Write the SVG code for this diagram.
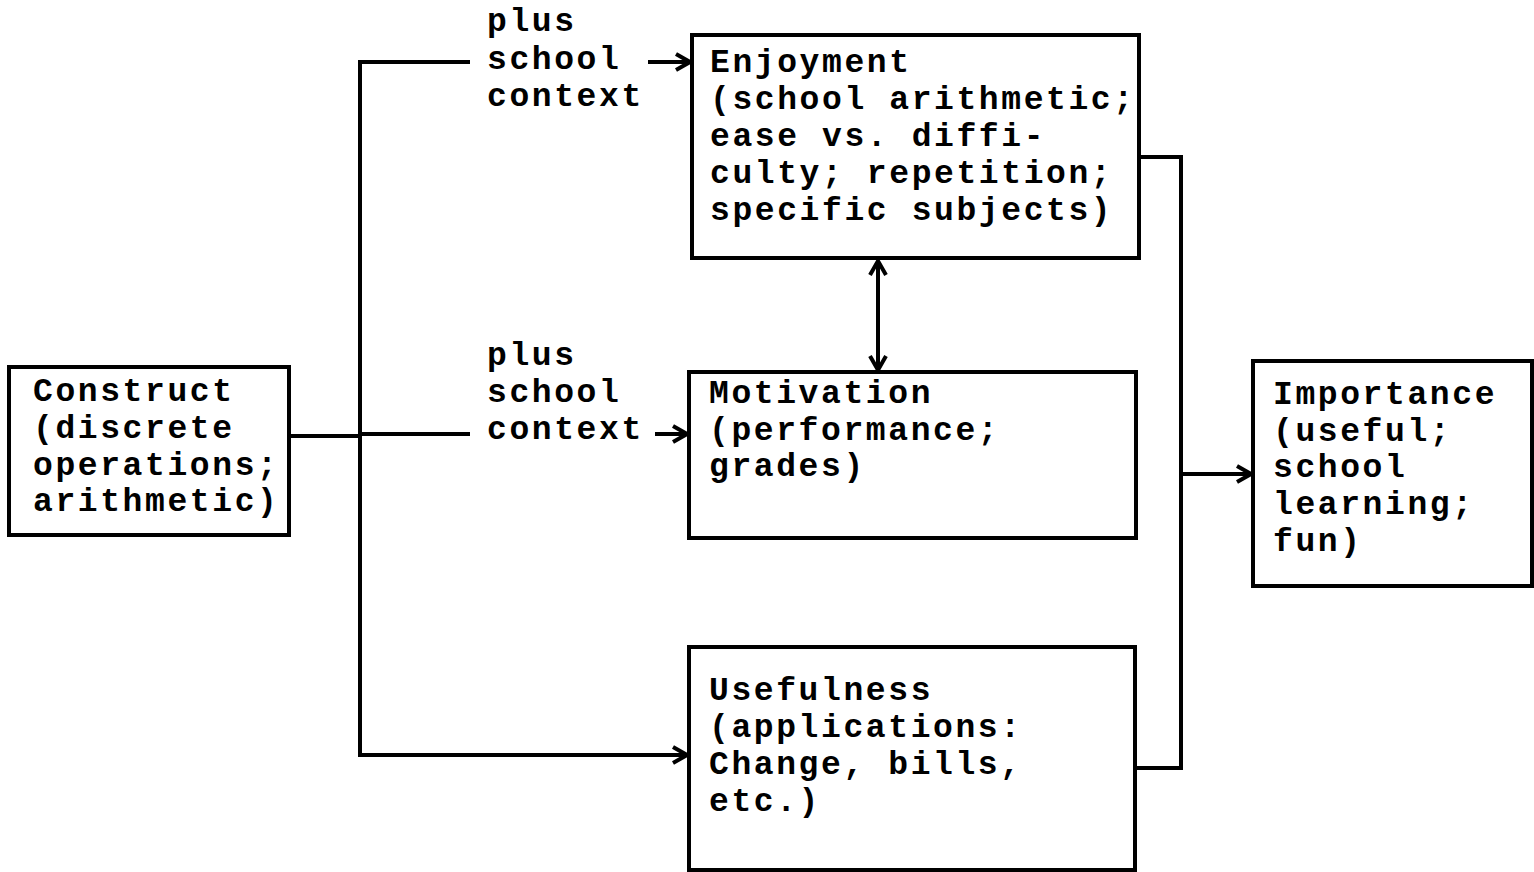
<svg xmlns="http://www.w3.org/2000/svg" width="1534" height="872" viewBox="0 0 1534 872">
<style>
.box{fill:#fff;stroke:#000;stroke-width:4}
.t{font-family:"Liberation Mono","Courier New",monospace;font-weight:bold;font-size:33px;letter-spacing:2.6px;fill:#000}
.c{fill:none;stroke:#000;stroke-width:4;stroke-linejoin:miter}
</style>
<defs>
<marker id="ah2" viewBox="0 0 20 20" refX="18" refY="10" markerWidth="20" markerHeight="20" markerUnits="userSpaceOnUse" orient="auto-start-reverse">
<path d="M4,2 L18,10 L4,18" fill="none" stroke="#000" stroke-width="4"/>
</marker>
</defs>
<g id="connectors">
<polyline class="c" points="289,436 360,436"/>
<polyline class="c" points="470,62 360,62 360,755 687,755" marker-end="url(#ah2)"/>
<polyline class="c" points="360,434 470,434"/>
<line class="c" x1="648" y1="62" x2="690" y2="62" marker-end="url(#ah2)"/>
<line class="c" x1="655" y1="434" x2="687" y2="434" marker-end="url(#ah2)"/>
<line class="c" x1="878" y1="261" x2="878" y2="370" marker-start="url(#ah2)" marker-end="url(#ah2)"/>
<polyline class="c" points="1139,157 1181,157 1181,768 1135,768"/>
<line class="c" x1="1181" y1="474" x2="1251" y2="474" marker-end="url(#ah2)"/>
</g>
<g id="label-top">
<text class="t" x="487" y="31">plus</text>
<text class="t" x="487" y="69">school</text>
<text class="t" x="487" y="106">context</text>
</g>
<g id="label-mid">
<text class="t" x="487" y="365">plus</text>
<text class="t" x="487" y="402">school</text>
<text class="t" x="487" y="439">context</text>
</g>
<g id="construct">
<rect class="box" x="9" y="367" width="280" height="168"/>
<text class="t" x="33" y="401">Construct</text>
<text class="t" x="33" y="438">(discrete</text>
<text class="t" x="33" y="475">operations;</text>
<text class="t" x="33" y="511">arithmetic)</text>
</g>
<g id="enjoyment">
<rect class="box" x="692" y="35" width="447" height="223"/>
<text class="t" x="710" y="72">Enjoyment</text>
<text class="t" x="710" y="109">(school arithmetic;</text>
<text class="t" x="710" y="146">ease vs. diffi-</text>
<text class="t" x="710" y="183">culty; repetition;</text>
<text class="t" x="710" y="220">specific subjects)</text>
</g>
<g id="motivation">
<rect class="box" x="689" y="372" width="447" height="166"/>
<text class="t" x="709" y="403">Motivation</text>
<text class="t" x="709" y="440">(performance;</text>
<text class="t" x="709" y="476">grades)</text>
</g>
<g id="usefulness">
<rect class="box" x="689" y="647" width="446" height="223"/>
<text class="t" x="709" y="700">Usefulness</text>
<text class="t" x="709" y="737">(applications:</text>
<text class="t" x="709" y="774">Change, bills,</text>
<text class="t" x="709" y="811">etc.)</text>
</g>
<g id="importance">
<rect class="box" x="1253" y="361" width="279" height="225"/>
<text class="t" x="1273" y="404">Importance</text>
<text class="t" x="1273" y="441">(useful;</text>
<text class="t" x="1273" y="477">school</text>
<text class="t" x="1273" y="514">learning;</text>
<text class="t" x="1273" y="551">fun)</text>
</g>
</svg>
